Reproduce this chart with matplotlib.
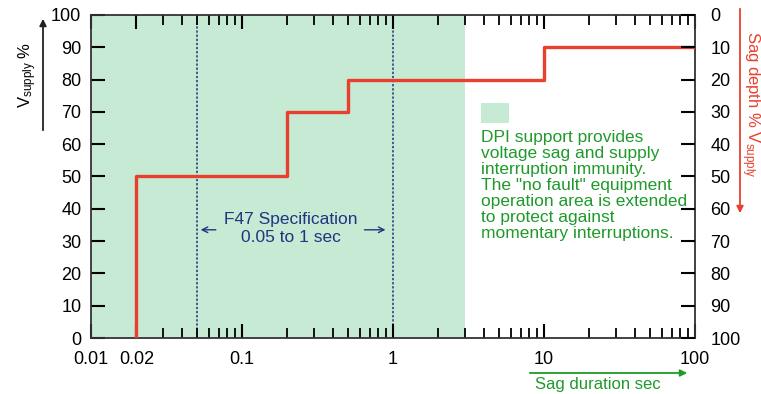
import numpy as np
import matplotlib
matplotlib.use("Agg")
import matplotlib.pyplot as plt
from matplotlib.ticker import FixedLocator, LogLocator, NullFormatter

plt.rcParams['font.family'] = ['Liberation Sans', 'DejaVu Sans']

# Ride-through curve (duration in sec, voltage in % of supply)
curve_t = [0.02, 0.02, 0.2, 0.5, 10, 100]
curve_v = [0, 50, 70, 80, 90, 90]

# shaded DPI support region and F47 spec limits
dpi_span = (0.01, 3)
f47_limits = [0.05, 1]

x_ticks = [0.01, 0.02, 0.1, 1, 10, 100]
x_labels = ['0.01', '0.02', '0.1', '1', '10', '100']
y_ticks = list(range(0, 101, 10))

shade = '#c6ead3'
red = '#e8402e'
green = '#1e9a2a'
blue = '#1f3580'

fig = plt.figure(figsize=(7.61, 3.94), dpi=100)
ax = fig.add_axes([0.1196, 0.1421, 0.7937, 0.8199])

ax.axvspan(dpi_span[0], dpi_span[1], color=shade, zorder=0, lw=0)
for xl in f47_limits:
    ax.axvline(xl, color=blue, ls=(0, (1.5, 1.2)), lw=1.1, zorder=1)

ax.step(curve_t, curve_v, where='post', color=red, lw=2.4, zorder=3)

ax.set_xscale('log')
ax.set_xlim(0.01, 100)
ax.set_ylim(0, 100)
ax.xaxis.set_major_locator(FixedLocator(x_ticks))
ax.set_xticklabels(x_labels)
ax.xaxis.set_minor_locator(LogLocator(base=10, subs=np.arange(2, 10)))
ax.xaxis.set_minor_formatter(NullFormatter())
ax.set_yticks(y_ticks)

for s in ax.spines.values():
    s.set_color('#333333')
    s.set_linewidth(1.3)

ax.tick_params(axis='both', which='major', direction='in', length=10, width=1.5,
               labelsize=13, top=True)
ax.tick_params(axis='x', which='major', pad=9)
ax.tick_params(axis='y', which='major', pad=7)
ax.tick_params(axis='x', which='minor', direction='in', length=7, width=1.3, top=True)
ax.tick_params(axis='y', which='both', right=False)

ax2 = ax.twinx()
ax2.set_ylim(100, 0)
ax2.set_yticks(y_ticks)
ax2.tick_params(axis='y', direction='in', length=10, width=1.5, labelsize=13, pad=11)
for s in ax2.spines.values():
    s.set_visible(False)

# F47 annotation
ax.text(0.21, 34, 'F47 Specification\n0.05 to 1 sec', color=blue, fontsize=12.5,
        ha='center', va='center', linespacing=1.25)
ax.annotate('', xy=(0.051, 33.5), xytext=(0.07, 33.5),
            arrowprops=dict(arrowstyle='->', color=blue, lw=1))
ax.annotate('', xy=(0.93, 33.5), xytext=(0.62, 33.5),
            arrowprops=dict(arrowstyle='->', color=blue, lw=1))

# DPI legend box and text
ax.fill_between([3.85, 5.9], 66.5, 72.8, color=shade, lw=0)
ax.text(3.8, 64.3, 'DPI support provides\nvoltage sag and supply\ninterruption immunity.\n'
        'The "no fault" equipment\noperation area is extended\nto protect against\n'
        'momentary interruptions.', color=green, fontsize=12.5, ha='left', va='top',
        linespacing=1.08)

# axis labels with arrows
fig.text(28 / 761, 319 / 394, r'V$\mathregular{_{supply}}$ %', rotation=90,
         ha='center', va='center', fontsize=12)
fig.add_artist(matplotlib.patches.FancyArrowPatch(
    (43 / 761, 261 / 394), (43 / 761, 378 / 394), transform=fig.transFigure,
    arrowstyle='-|>', mutation_scale=10, color='#222222', lw=1.3))

fig.text(750 / 761, 290 / 394, r'Sag depth % V$\mathregular{_{supply}}$', rotation=-90,
         ha='center', va='center', fontsize=12, color=red)
fig.add_artist(matplotlib.patches.FancyArrowPatch(
    (740 / 761, 388 / 394), (740 / 761, 178 / 394), transform=fig.transFigure,
    arrowstyle='-|>', mutation_scale=10, color=red, lw=1.3))

fig.text(598 / 761, 10 / 394, 'Sag duration sec', ha='center', va='center',
         fontsize=12, color=green)
fig.add_artist(matplotlib.patches.FancyArrowPatch(
    (527 / 761, 21 / 394), (690 / 761, 21 / 394), transform=fig.transFigure,
    arrowstyle='-|>', mutation_scale=10, color=green, lw=1.3))

fig.savefig('out.png', dpi=100)
